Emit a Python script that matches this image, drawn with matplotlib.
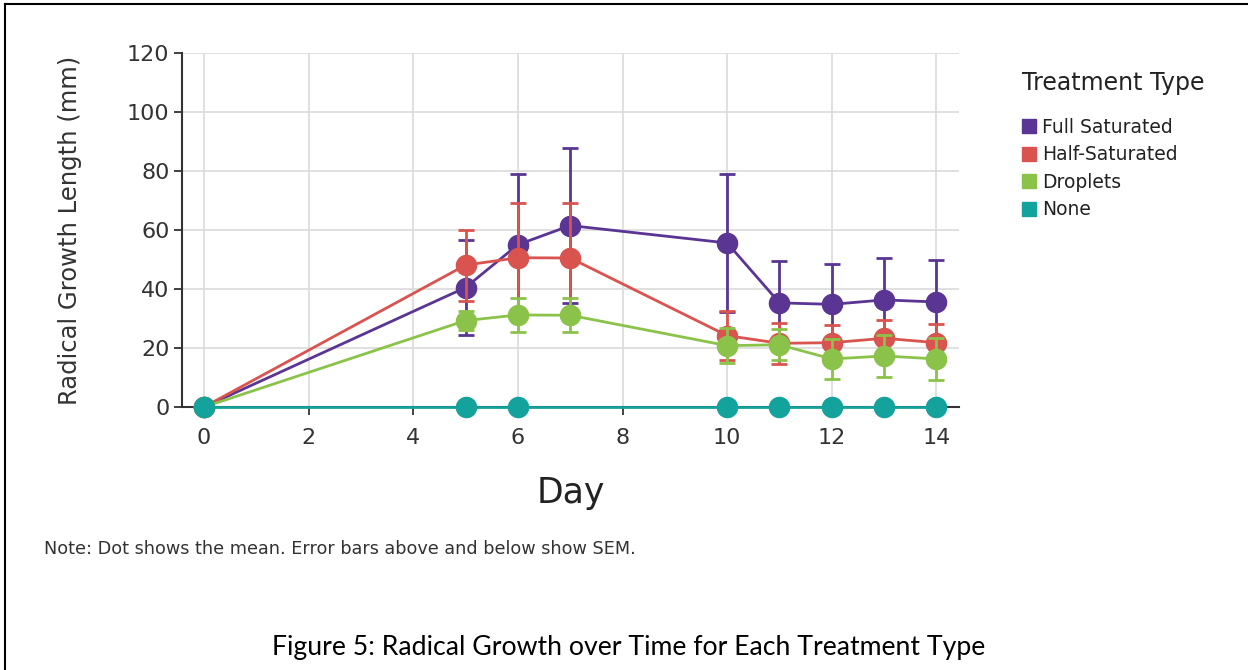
import matplotlib
matplotlib.use("Agg")
import matplotlib.pyplot as plt
from matplotlib.lines import Line2D
import numpy as np

plt.rcParams["font.family"] = ["DejaVu Sans"]

# data
days = [0, 5, 6, 7, 10, 11, 12, 13, 14]
days_none = [0, 5, 6, 10, 11, 12, 13, 14]

full_mean = [0, 40.5, 55.0, 61.5, 55.6, 35.3, 34.8, 36.3, 35.6]
full_sem = [0, 16.0, 24.0, 26.2, 23.4, 14.2, 13.8, 14.3, 14.2]

half_mean = [0, 48.1, 50.6, 50.5, 24.2, 21.6, 21.8, 23.3, 21.8]
half_sem = [0, 12.0, 18.5, 18.5, 8.2, 7.0, 6.0, 6.2, 6.4]

drop_mean = [0, 29.3, 31.2, 31.1, 20.8, 21.1, 16.3, 17.3, 16.3]
drop_sem = [0, 3.2, 5.8, 5.8, 5.9, 5.3, 6.8, 7.0, 7.1]

none_mean = [0, 0, 0, 0, 0, 0, 0, 0]

labels = ["Full Saturated", "Half-Saturated", "Droplets", "None"]
colors = ["#5a3593", "#d9534f", "#8bc34a", "#14a39c"]

fig = plt.figure(figsize=(12.48, 6.70), dpi=100)
ax = fig.add_axes([0.1458, 0.3925, 0.623, 0.5285])

series = [
    (days, full_mean, full_sem),
    (days, half_mean, half_sem),
    (days, drop_mean, drop_sem),
    (days_none, none_mean, None),
]
for i, ((x, m, s), c) in enumerate(zip(series, colors)):
    z = 3 + i * 3
    ax.plot(x, m, color=c, lw=2, zorder=z, clip_on=False)
    if s is not None:
        ax.errorbar(x[1:], m[1:], yerr=s[1:], fmt="none", ecolor=c,
                    elinewidth=2, capsize=6, capthick=2, zorder=z + 1)
    ax.plot(x, m, "o", color=c, ms=14.5, zorder=z + 2, clip_on=False)

ax.set_xlim(-0.42, 14.44)
ax.set_ylim(0, 120)
ax.set_xticks(np.arange(0, 15, 2))
ax.set_yticks(np.arange(0, 121, 20))
ax.grid(True, color="#dddddd", lw=1.3, zorder=0)
ax.set_axisbelow(True)
for sp in ["top", "right"]:
    ax.spines[sp].set_visible(False)
for sp in ["left", "bottom"]:
    ax.spines[sp].set_color("#333333")
    ax.spines[sp].set_linewidth(1.5)
ax.tick_params(axis="both", labelsize=16, colors="#333333", length=6,
               width=1.3, pad=3)
ax.tick_params(axis="x", pad=9)
ax.set_xlabel("Day", fontsize=25, color="#222222", labelpad=20)
ax.set_ylabel("Radical Growth Length (mm)", fontsize=17.5, color="#333333",
              labelpad=32)

fig.text(0.819, 0.876, "Treatment Type", fontsize=17, color="#222222",
         va="center")
handles = [Line2D([], [], marker="s", ls="none", color=c, ms=10)
           for c in colors]
leg = fig.legend(handles, labels, loc="upper left",
                 bbox_to_anchor=(0.8014, 0.849),
                 frameon=False, fontsize=13.5,
                 handletextpad=0.05, labelspacing=0.45, handlelength=1.3)
for t in leg.get_texts():
    t.set_color("#222222")

fig.text(0.035, 0.181, "Note: Dot shows the mean. Error bars above and below show SEM.",
         fontsize=12.7, color="#333333", va="center")
fig.text(0.504, 0.034, "Figure 5: Radical Growth over Time for Each Treatment Type",
         fontsize=19.2, family=["Lato", "DejaVu Sans"], ha="center", va="center",
         color="black")

# page border lines (left and top)
fig.add_artist(Line2D([0.004, 0.004], [0, 0.994], color="black", lw=1.5,
                      transform=fig.transFigure))
fig.add_artist(Line2D([0.004, 1.0], [0.994, 0.994], color="black", lw=1.5,
                      transform=fig.transFigure))

fig.savefig("out.png", dpi=100)
